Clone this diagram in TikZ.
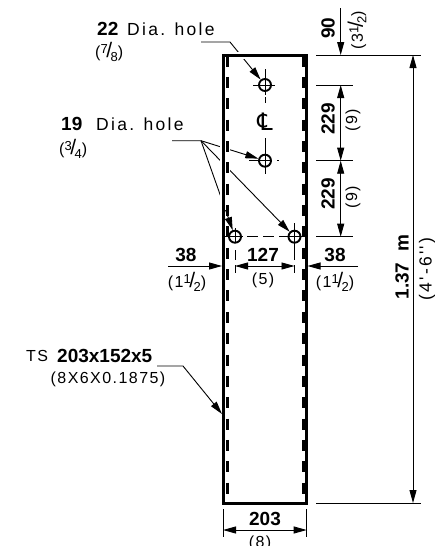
\documentclass[tikz,border=0pt]{standalone}
\usepackage{fontspec}
\usetikzlibrary{arrows.meta}
\newfontfamily\thinfont[LetterSpace=9]{Liberation Sans}
\newfontfamily\widefont[LetterSpace=13]{Liberation Sans}
\newfontfamily\boldfont[LetterSpace=0]{Liberation Sans Bold}
\newfontfamily\clfont{DejaVu Sans}
\newcommand{\slfrac}[2]{\raisebox{4.5pt}{\fontsize{13}{13}\selectfont #1}\kern-1.5pt{\fontsize{21}{21}\selectfont /}\kern-1.5pt\raisebox{-3.5pt}{\fontsize{13}{13}\selectfont #2}}
\tikzset{
	dim/.style={line width=0.9pt,>={Stealth[length=13pt,width=7pt,inset=0pt]}},
	wall/.style={line width=3pt,line cap=round},
	inner wall/.style={line width=3pt,dash pattern=on 11pt off 10.35pt},
	axis/.style={line width=0.8pt},
	hole/.style={circle,draw,line width=1.9pt,minimum size=12pt,inner sep=0pt},
	big/.style={inner sep=0pt,font=\boldfont\fontsize{19}{19}\selectfont},
	small/.style={inner sep=0pt,font=\thinfont\fontsize{16}{16}\selectfont},
	note/.style={inner sep=0pt,anchor=west,font=\widefont\fontsize{17.5}{17.5}\selectfont},
}
\begin{document}
\begin{tikzpicture}[x=1pt,y=-1pt]
	\useasboundingbox (0,0) rectangle (435,546);
	\node[hole] (hole a) at (265,85) {};
	\node[hole] (hole b) at (265,160.7) {};
	\node[hole] (hole c) at (235,236.7) {};
	\node[hole] (hole d) at (294.5,236.7) {};
	\coordinate (bend a) at (230,42);
	\coordinate (start a) at (201,42);
	\coordinate (bend b) at (201,140.7);
	\coordinate (start b) at (172,140.7);
	\draw[axis] (253,85) -- (275,85);
	\draw[axis] (265,69) -- (265,95);
	\draw[axis] (265,97) -- (265,103);
	\draw[axis] (265,138) -- (265,174);
	\draw[axis] (249,160.7) -- (272,160.7);
	\draw[axis] (277,160.7) -- (279,160.7);
	\draw[axis] (225,236.7) -- (243,236.7);
	\draw[axis,dash pattern=on 11pt off 5pt] (247,236.7) -- (285,236.7);
	\draw[axis] (285,236.7) -- (306,236.7);
	\draw[axis] (235,228) -- (235,243);
	\draw[axis] (235,250) -- (235,260);
	\draw[axis] (294.5,223) -- (294.5,260);
	\draw[axis] (235,265) -- (235,273);
	\draw[axis] (294.5,265) -- (294.5,273);
	\node[inner sep=0pt,font=\clfont\fontsize{24}{24}\selectfont] (cl mark) at (265,122) {℄};
	\draw[dim,->] (start a) -- (bend a) -- (hole a);
	\draw[dim,->] (start b) -- (bend b) -- (hole b);
	\draw[dim,->] (bend b) -- (hole c);
	\draw[dim,->] (bend b) -- (hole d);
	\draw[white,line width=7pt] (233,55.5) -- (250,55.5);
	\draw[white,line width=10pt] (225,145) -- (225,210);
	\draw[wall] (223,55) rectangle (306.5,503);
	\draw[inner wall] (227,55.6) -- (227,503);
	\draw[inner wall] (303,55.6) -- (303,503);
	\coordinate (ts start) at (157,366);
	\coordinate (ts bend) at (183,366);
	\coordinate (ts end) at (222,414);
	\draw[dim,->] (ts start) -- (ts bend) -- (ts end);
	\draw[dim] (316,55) -- (421,55);
	\draw[dim] (316,85) -- (353,85);
	\draw[dim] (316,160.7) -- (353,160.7);
	\draw[dim] (316,236.7) -- (353,236.7);
	\draw[dim] (316,503) -- (421,503);
	\coordinate (top a) at (340.7,8);
	\coordinate (top b) at (340.7,55);
	\coordinate (mid a) at (340.7,85);
	\coordinate (mid b) at (340.7,160.7);
	\coordinate (mid c) at (340.7,236.7);
	\coordinate (far a) at (413,55);
	\coordinate (far b) at (413,503);
	\draw[dim,->] (top a) -- (top b);
	\draw[dim,<->] (mid a) -- (mid b);
	\draw[dim,<->] (mid b) -- (mid c);
	\draw[dim,<->] (far a) -- (far b);
	\coordinate (left a) at (168,266);
	\coordinate (left b) at (222,266);
	\coordinate (web a) at (235,266);
	\coordinate (web b) at (294.5,266);
	\coordinate (right a) at (358,266);
	\coordinate (right b) at (307.5,266);
	\draw[dim,->] (left a) -- (left b);
	\draw[dim,<->] (web a) -- (web b);
	\draw[dim,->] (right a) -- (right b);
	\coordinate (base a) at (223,530);
	\coordinate (base b) at (306.7,530);
	\draw[dim] (223,509) -- (223,537);
	\draw[dim] (306.7,509) -- (306.7,537);
	\draw[dim,<->] (base a) -- (base b);
	\node[big,anchor=west] (large size) at (97,29) {22};
	\node[note] (large text) at (127,29) {Dia. hole};
	\node[small,anchor=west] (large inch) at (95,52) {(\slfrac{7}{8})};
	\node[big,anchor=west] (small size) at (61,124) {19};
	\node[note] (small text) at (96,124) {Dia. hole};
	\node[small,anchor=west] (small inch) at (59,149) {(\slfrac{3}{4})};
	\node[small,anchor=west] (tube text) at (26,356) {TS};
	\node[big,anchor=west] (tube size) at (57,356) {203x152x5};
	\node[small] (tube inch) at (108,379) {(8X6X0.1875)};
	\node[big] (left size) at (186,255) {38};
	\node[small] (left inch) at (187,282) {(1\slfrac{1}{2})};
	\node[big] (web size) at (263,255) {127};
	\node[small] (web inch) at (263,280) {(5)};
	\node[big] (right size) at (335,255) {38};
	\node[small] (right inch) at (335,282) {(1\slfrac{1}{2})};
	\node[big] (base size) at (265,519) {203};
	\node[small] (base inch) at (260,543) {(8)};
	\node[big,rotate=90] (top size) at (328,28) {90};
	\node[small,rotate=90] (top inch) at (357,30) {(3\slfrac{1}{2})};
	\node[big,rotate=90] (mid size) at (328,119) {229};
	\node[small,rotate=90] (mid inch) at (353,120) {(9)};
	\node[big,rotate=90] (low size) at (328,194) {229};
	\node[small,rotate=90] (low inch) at (353,197) {(9)};
	\node[big,rotate=90] (full size) at (402,267) {1.37\kern11pt m};
	\node[note,anchor=center,rotate=90] (full inch) at (427,269) {(4'-6'')};
\end{tikzpicture}
\end{document}
